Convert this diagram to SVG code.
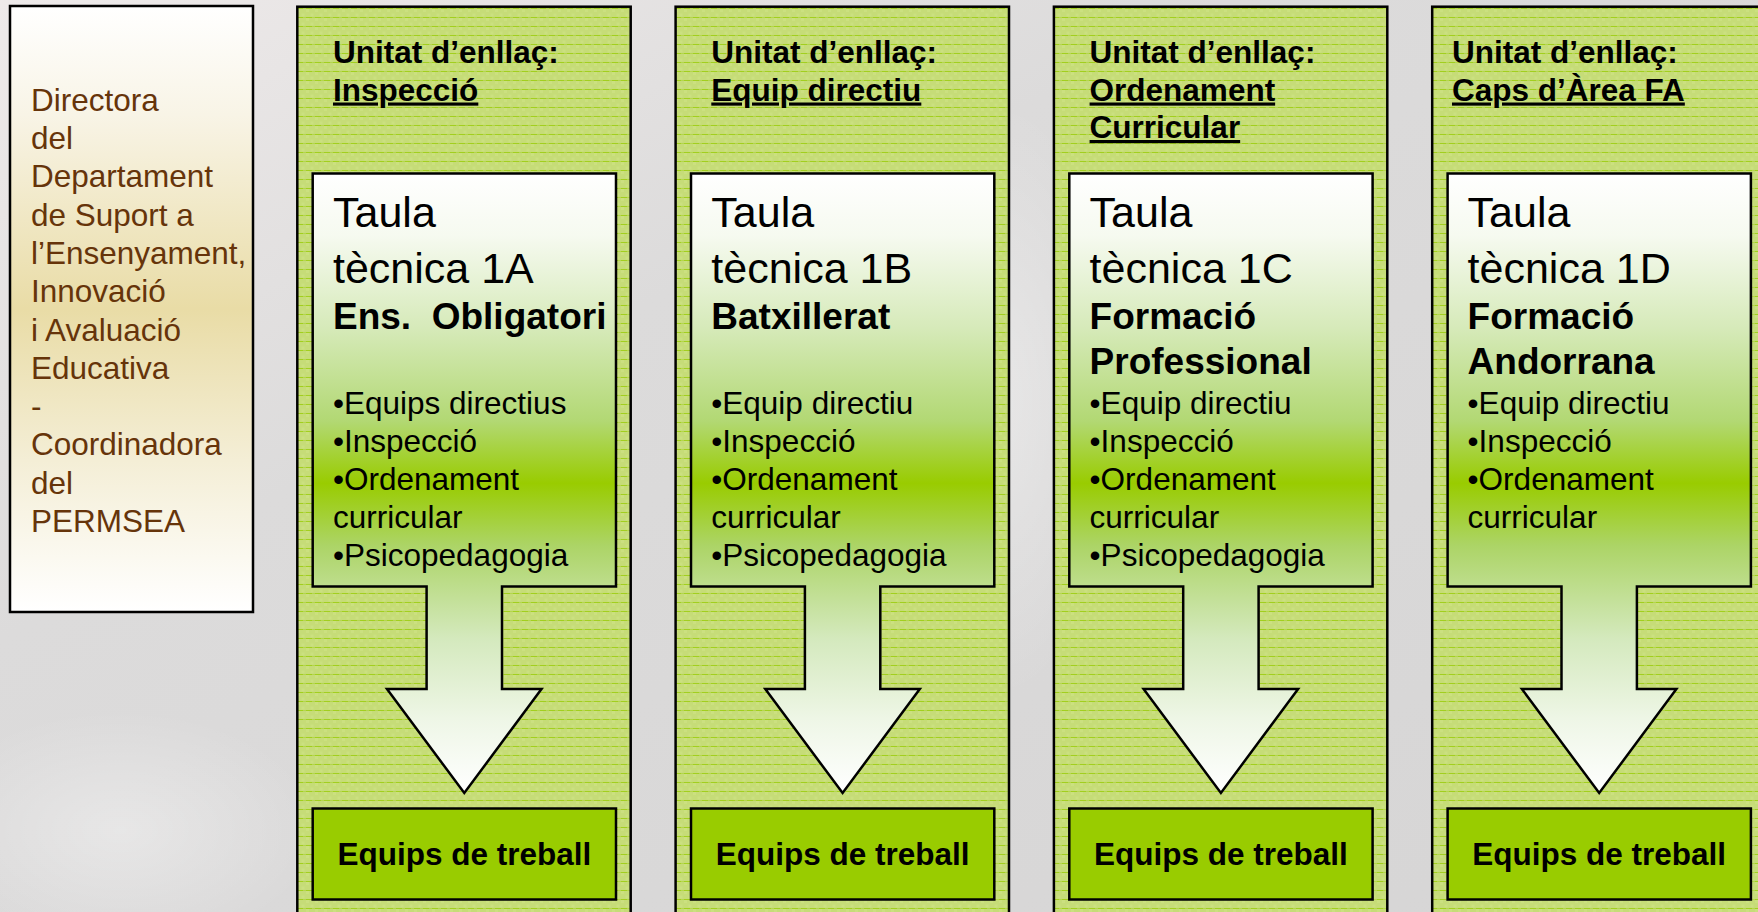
<svg xmlns="http://www.w3.org/2000/svg" width="1758" height="912" viewBox="0 0 1758 912">
<defs>
<style>
.t{font-family:"Liberation Sans",Arial,sans-serif;fill:#000}
.hd{font-size:31.5px;font-weight:bold}
.ul{text-decoration:underline}
.ti{font-size:43px}
.sb{font-size:37px;font-weight:bold}
.bl{font-size:31.5px}
.eq{font-size:31.5px;font-weight:bold;text-anchor:middle}
.dir{font-family:"Liberation Sans",Arial,sans-serif;font-size:31.5px;fill:#66340a}
.col{fill:url(#stripes);stroke:#000;stroke-width:2.5}
.card{fill:url(#cardGrad);stroke:#000;stroke-width:2.5;stroke-linejoin:miter}
.eqbox{fill:#99cc00;stroke:#000;stroke-width:2.5}
</style>
<linearGradient id="bg" x1="0" y1="0" x2="1" y2="1">
<stop offset="0" stop-color="#eeeaea"/>
<stop offset="0.35" stop-color="#dcdbdb"/>
<stop offset="1" stop-color="#d6d5d5"/>
</linearGradient>
<linearGradient id="dirGrad" x1="0" y1="0" x2="0" y2="1">
<stop offset="0" stop-color="#ffffff"/>
<stop offset="0.18" stop-color="#f8f4e6"/>
<stop offset="0.5" stop-color="#e9dca6"/>
<stop offset="0.75" stop-color="#f4eed6"/>
<stop offset="1" stop-color="#ffffff"/>
</linearGradient>
<linearGradient id="cardGrad" gradientUnits="userSpaceOnUse" x1="0" y1="173.5" x2="0" y2="793">
<stop offset="0" stop-color="#ffffff"/>
<stop offset="0.1" stop-color="#f6faf0"/>
<stop offset="0.25" stop-color="#d6eab9"/>
<stop offset="0.4" stop-color="#b2d873"/>
<stop offset="0.5" stop-color="#99cc00"/>
<stop offset="0.6" stop-color="#acd466"/>
<stop offset="0.75" stop-color="#d4e9bd"/>
<stop offset="0.88" stop-color="#eef6e6"/>
<stop offset="1" stop-color="#ffffff"/>
</linearGradient>
<pattern id="stripes" patternUnits="userSpaceOnUse" width="9" height="9">
<rect width="9" height="9" fill="#c6dc78"/>
<rect x="0" y="0" width="3" height="3" fill="#cbe080"/>
<rect x="4.5" y="4.5" width="3" height="3" fill="#cbe080"/>
<rect x="0" y="8" width="6" height="1" fill="#a2cf1e"/>
<rect x="6" y="8" width="3" height="1" fill="#b4d64c"/>
</pattern>
<radialGradient id="glow" cx="0.5" cy="0.5" r="0.5">
<stop offset="0" stop-color="#ffffff" stop-opacity="0.35"/>
<stop offset="1" stop-color="#ffffff" stop-opacity="0"/>
</radialGradient>
</defs>
<rect width="1758" height="912" fill="url(#bg)"/>
<ellipse cx="120" cy="830" rx="200" ry="120" fill="url(#glow)"/>
<ellipse cx="1000" cy="400" rx="120" ry="300" fill="url(#glow)"/>

<g id="director">
<rect x="10" y="6" width="243" height="606" fill="url(#dirGrad)" stroke="#000" stroke-width="2.5"/>
<text class="dir" x="31" y="110.7">Directora</text>
<text class="dir" x="31" y="149">del</text>
<text class="dir" x="31" y="187.3">Departament</text>
<text class="dir" x="31" y="225.6">de Suport a</text>
<text class="dir" x="31" y="263.9">l’Ensenyament,</text>
<text class="dir" x="31" y="302.2">Innovació</text>
<text class="dir" x="31" y="340.5">i Avaluació</text>
<text class="dir" x="31" y="378.8">Educativa</text>
<text class="dir" x="31" y="417.1">-</text>
<text class="dir" x="31" y="455.4">Coordinadora</text>
<text class="dir" x="31" y="493.7">del</text>
<text class="dir" x="31" y="532">PERMSEA</text>
</g>

<g id="colA">
<rect class="col" x="297.3" y="6.7" width="333.4" height="920"/>
<text class="t hd" x="333" y="63">Unitat d’enllaç:</text>
<text class="t hd ul" x="333" y="100.5">Inspecció</text>
<path class="card" d="M312.7,173.5 H616 V586.5 H502 V689 H541.5 L464.3,793 L387,689 H426.6 V586.5 H312.7 Z"/>
<text class="t ti" x="333" y="226.7">Taula</text>
<text class="t ti" x="333" y="283">tècnica 1A</text>
<text class="t sb" x="333" y="329" xml:space="preserve">Ens.  Obligatori</text>
<text class="t bl" x="333" y="414">•Equips directius</text>
<text class="t bl" x="333" y="452">•Inspecció</text>
<text class="t bl" x="333" y="490">•Ordenament</text>
<text class="t bl" x="333" y="528">curricular</text>
<text class="t bl" x="333" y="566">•Psicopedagogia</text>
<rect class="eqbox" x="312.7" y="808.5" width="303.3" height="91"/>
<text class="t eq" x="464.3" y="865">Equips de treball</text>
</g>

<g id="colB">
<rect class="col" x="675.6" y="6.7" width="333.4" height="920"/>
<text class="t hd" x="711.3" y="63">Unitat d’enllaç:</text>
<text class="t hd ul" x="711.3" y="100.5">Equip directiu</text>
<path class="card" d="M691,173.5 H994.3 V586.5 H880.3 V689 H919.8 L842.6,793 L765.3,689 H804.9 V586.5 H691 Z"/>
<text class="t ti" x="711.3" y="226.7">Taula</text>
<text class="t ti" x="711.3" y="283">tècnica 1B</text>
<text class="t sb" x="711.3" y="329">Batxillerat</text>
<text class="t bl" x="711.3" y="414">•Equip directiu</text>
<text class="t bl" x="711.3" y="452">•Inspecció</text>
<text class="t bl" x="711.3" y="490">•Ordenament</text>
<text class="t bl" x="711.3" y="528">curricular</text>
<text class="t bl" x="711.3" y="566">•Psicopedagogia</text>
<rect class="eqbox" x="691" y="808.5" width="303.3" height="91"/>
<text class="t eq" x="842.6" y="865">Equips de treball</text>
</g>

<g id="colC">
<rect class="col" x="1053.9" y="6.7" width="333.4" height="920"/>
<text class="t hd" x="1089.6" y="63">Unitat d’enllaç:</text>
<text class="t hd ul" x="1089.6" y="100.5">Ordenament</text>
<text class="t hd ul" x="1089.6" y="138">Curricular</text>
<path class="card" d="M1069.3,173.5 H1372.6 V586.5 H1258.6 V689 H1298.1 L1220.9,793 L1143.6,689 H1183.2 V586.5 H1069.3 Z"/>
<text class="t ti" x="1089.6" y="226.7">Taula</text>
<text class="t ti" x="1089.6" y="283">tècnica 1C</text>
<text class="t sb" x="1089.6" y="329">Formació</text>
<text class="t sb" x="1089.6" y="374">Professional</text>
<text class="t bl" x="1089.6" y="414">•Equip directiu</text>
<text class="t bl" x="1089.6" y="452">•Inspecció</text>
<text class="t bl" x="1089.6" y="490">•Ordenament</text>
<text class="t bl" x="1089.6" y="528">curricular</text>
<text class="t bl" x="1089.6" y="566">•Psicopedagogia</text>
<rect class="eqbox" x="1069.3" y="808.5" width="303.3" height="91"/>
<text class="t eq" x="1220.9" y="865">Equips de treball</text>
</g>

<g id="colD">
<rect class="col" x="1432.2" y="6.7" width="333.4" height="920"/>
<text class="t hd" x="1452" y="63">Unitat d’enllaç:</text>
<text class="t hd ul" x="1452" y="100.5">Caps d’Àrea FA</text>
<path class="card" d="M1447.6,173.5 H1750.9 V586.5 H1636.9 V689 H1676.4 L1599.2,793 L1521.9,689 H1561.5 V586.5 H1447.6 Z"/>
<text class="t ti" x="1467.6" y="226.7">Taula</text>
<text class="t ti" x="1467.6" y="283">tècnica 1D</text>
<text class="t sb" x="1467.6" y="329">Formació</text>
<text class="t sb" x="1467.6" y="374">Andorrana</text>
<text class="t bl" x="1467.6" y="414">•Equip directiu</text>
<text class="t bl" x="1467.6" y="452">•Inspecció</text>
<text class="t bl" x="1467.6" y="490">•Ordenament</text>
<text class="t bl" x="1467.6" y="528">curricular</text>
<rect class="eqbox" x="1447.6" y="808.5" width="303.3" height="91"/>
<text class="t eq" x="1599.2" y="865">Equips de treball</text>
</g>

<g id="connectors"></g>
</svg>
